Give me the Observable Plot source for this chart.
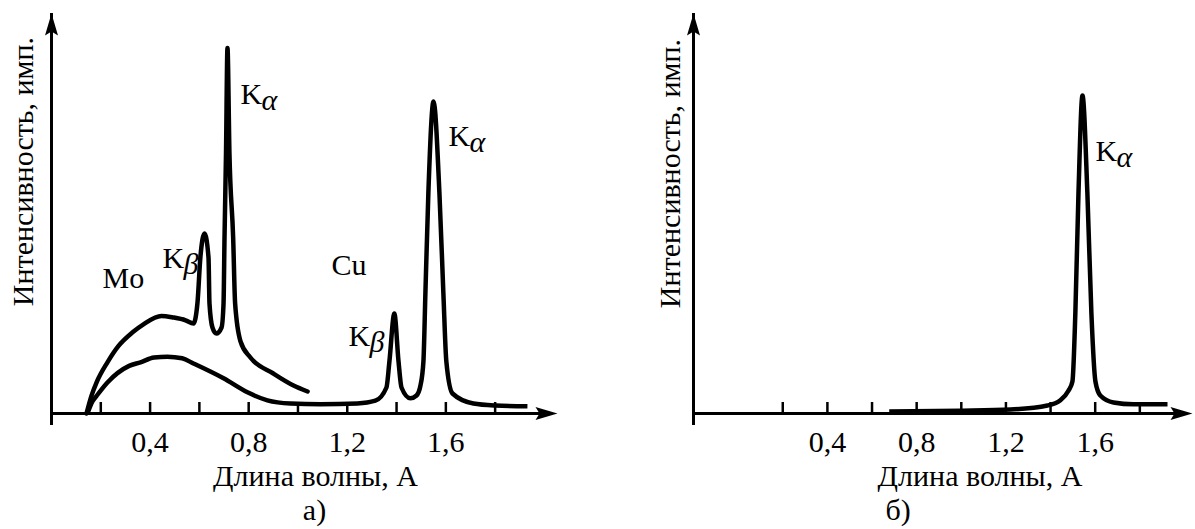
<!DOCTYPE html>
<html>
<head>
<meta charset="utf-8">
<script src="https://cdn.jsdelivr.net/npm/d3@7"></script>
<script src="https://cdn.jsdelivr.net/npm/@observablehq/plot@0.6"></script>
<style>
  html, body { margin: 0; padding: 0; background: #fff; overflow: hidden; }
  #wrap { position: relative; width: 1195px; height: 529px; }
  #panelA, #panelB { position: absolute; top: 0; }
  #panelA { left: 0; }
  #panelB { left: 590px; }
</style>
</head>
<body>
<div id="wrap"><div id="panelA"></div><div id="panelB"></div></div>
<script>
// Wavelength in angstroms, intensity in arbitrary units (pulses)

// Molybdenum anode: continuous spectrum with Kβ and Kα lines
const moWavelength = [0.142, 0.162, 0.183, 0.227, 0.272, 0.329, 0.373, 0.446, 0.495, 0.544, 0.576,
  0.592, 0.604, 0.621, 0.637, 0.641, 0.653, 0.669, 0.690, 0.698, 0.702, 0.708, 0.714,
  0.722, 0.737, 0.745, 0.767, 0.807, 0.900, 0.982, 1.039];
const moIntensity = [0, 4.4, 7.8, 12.8, 16.9, 20.3, 22.3, 24.4, 24, 23.3, 22.5,
  27.5, 39, 45, 39, 27.5, 21.5, 20, 21.5, 27.5, 44, 65, 91.4,
  65, 44, 27.5, 18, 14, 10, 7, 5.5];

// Copper anode: continuous spectrum with Kβ and Kα lines
const cuWavelength = [0.146, 0.166, 0.183, 0.227, 0.315, 0.361, 0.416, 0.470, 0.530, 0.576, 0.698, 0.795,
  0.876, 0.970, 1.091, 1.241, 1.314, 1.359, 1.371, 1.391, 1.408, 1.420, 1.456, 1.481,
  1.497, 1.509, 1.517, 1.529, 1.550, 1.574, 1.590, 1.602, 1.627, 1.712, 1.801, 1.931];
const cuIntensity = [0, 3, 4.4, 7.75, 11.9, 12.8, 14, 14.2, 13.8, 12.5, 8.8, 5.3,
  3.3, 2.5, 2.3, 2.5, 3.2, 6.5, 13, 25, 13, 6.5, 3.8, 4.5,
  7, 13, 30, 55, 78, 55, 30, 13, 5, 2.5, 2, 1.8];

// Copper radiation after the filter: Kα only
const filteredWavelength = [0.677, 0.996, 1.220, 1.386, 1.444, 1.480, 1.498, 1.511, 1.525,
  1.543, 1.565, 1.583, 1.601, 1.623, 1.682, 1.771, 1.924];
const filteredIntensity = [0.5, 0.7, 1.0, 2, 3.3, 5.7, 8, 25, 55,
  79.5, 55, 25, 8, 4.5, 2.75, 2.3, 2.3];

// Axis ticks
const tickValues = [0.2, 0.4, 0.6, 0.8, 1.0, 1.2, 1.4, 1.6, 1.8];
const tickLabels = [0.4, 0.8, 1.2, 1.6];

// Spectral line annotations (letter + Greek subscript), anchored at the letter's baseline
const linesA = [
  {letter: "K", sub: "α", x: 0.767, y: 77.5},
  {letter: "K", sub: "β", x: 0.450, y: 36.5},
  {letter: "K", sub: "α", x: 1.611, y: 67},
  {letter: "K", sub: "β", x: 1.205, y: 17}
];
const linesB = [
  {letter: "K", sub: "α", x: 1.601, y: 63.25}
];
const anodesA = [
  {name: "Mo", x: 0.207, y: 31.5},
  {name: "Cu", x: 1.136, y: 34.7}
];

const yTitle = "Интенсивность, имп.";
const xTitle = "Длина волны, А";

const FONT = "'Liberation Serif', 'Times New Roman', serif";
const FS = 30;

const toRows = (xs, ys) => xs.map((x, i) => ({x, y: ys[i]}));

// Filled arrowhead, tip at the origin, pointing up
const arrowHead = {
  draw(ctx) {
    ctx.moveTo(0, 0);
    ctx.lineTo(6.5, 22);
    ctx.lineTo(0, 18);
    ctx.lineTo(-6.5, 22);
    ctx.closePath();
  }
};

function axesMarks(x0, x1, yTop) {
  return [
    Plot.ruleY([0], {x1: x0, x2: x1, strokeWidth: 3, insetRight: 12}),
    Plot.ruleX([x0], {y1: 0, y2: yTop, strokeWidth: 3, insetTop: 12}),
    Plot.ruleX(tickValues, {y1: 0, y2: 2.75, strokeWidth: 2.5}),
    Plot.dot([[x1, 0]], {x: d => d[0], y: d => d[1], symbol: arrowHead, fill: "black", stroke: "none", rotate: 90}),
    Plot.dot([[x0, yTop]], {x: d => d[0], y: d => d[1], symbol: arrowHead, fill: "black", stroke: "none"}),
    Plot.axisX(tickLabels, {
      anchor: "bottom", tickSize: 0, tickPadding: 17, fontSize: FS, fontFamily: FONT,
      tickFormat: d => d.toFixed(1).replace(".", ","), label: null
    })
  ];
}

function lineLabelMarks(data) {
  return [
    Plot.text(data, {x: "x", y: "y", text: "letter", textAnchor: "start", lineAnchor: "bottom",
      fontSize: FS, fontFamily: FONT}),
    Plot.text(data, {x: "x", y: "y", text: "sub", textAnchor: "start", lineAnchor: "bottom",
      fontSize: FS, fontFamily: FONT, fontStyle: "italic", dx: 21, dy: 6})
  ];
}

function titleMarks(caption, titleDx, captionDx, yDx, yDy) {
  return [
    Plot.text([yTitle], {frameAnchor: "top-left", rotate: -90, textAnchor: "middle",
      lineAnchor: "middle", fontSize: FS, fontFamily: FONT, dx: yDx, dy: yDy}),
    Plot.text([xTitle], {frameAnchor: "bottom", lineAnchor: "bottom", fontSize: FS, fontFamily: FONT,
      dx: titleDx, dy: 72}),
    Plot.text([caption], {frameAnchor: "bottom", lineAnchor: "bottom", fontSize: FS, fontFamily: FONT,
      dx: captionDx, dy: 106})
  ];
}

const yTop = 100;

// Panel a: Mo and Cu anodes
const xA = [0, 2.053];
const plotA = Plot.plot({
  width: 590, height: 529,
  marginLeft: 51, marginRight: 33, marginTop: 13, marginBottom: 116,
  x: {domain: xA},
  y: {domain: [0, yTop], axis: null},
  style: {fontFamily: FONT, background: "white", color: "black"},
  marks: [
    ...axesMarks(xA[0], xA[1], yTop),
    Plot.line(toRows(moWavelength, moIntensity), {x: "x", y: "y", curve: "monotone-x",
      stroke: "black", strokeWidth: 4.5, strokeLinejoin: "round", strokeLinecap: "round"}),
    Plot.line(toRows(cuWavelength, cuIntensity), {x: "x", y: "y", curve: "monotone-x",
      stroke: "black", strokeWidth: 4.5, strokeLinejoin: "round", strokeLinecap: "butt"}),
    ...lineLabelMarks(linesA),
    Plot.text(anodesA, {x: "x", y: "y", text: "name", textAnchor: "start", lineAnchor: "bottom",
      fontSize: FS, fontFamily: FONT}),
    ...titleMarks("а)", 11, 10, -28, 158)
  ]
});
document.getElementById("panelA").append(plotA);

// Panel b: Cu anode with filter
const xB = [-0.2, 2.036];
const plotB = Plot.plot({
  width: 605, height: 529,
  marginLeft: 103, marginRight: 3, marginTop: 13, marginBottom: 116,
  x: {domain: xB},
  y: {domain: [0, yTop], axis: null},
  style: {fontFamily: FONT, background: "white", color: "black"},
  marks: [
    ...axesMarks(xB[0], xB[1], yTop),
    Plot.line(toRows(filteredWavelength, filteredIntensity), {x: "x", y: "y", curve: "monotone-x",
      stroke: "black", strokeWidth: 4.5, strokeLinejoin: "round", strokeLinecap: "butt"}),
    ...lineLabelMarks(linesB),
    ...titleMarks("б)", 37, -45, -23, 160)
  ]
});
document.getElementById("panelB").append(plotB);
</script>
</body>
</html>
